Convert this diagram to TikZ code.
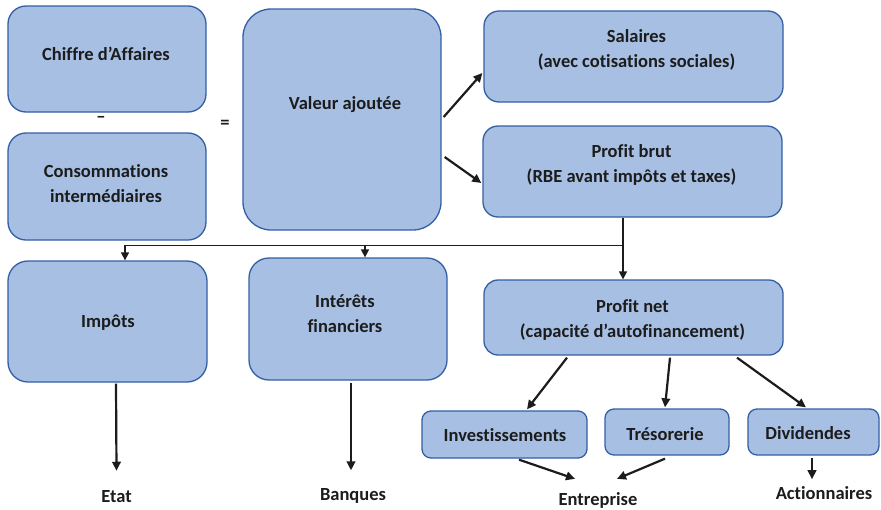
\documentclass[tikz,border=0pt]{standalone}
\usepackage{fontspec}
\setmainfont{Carlito}[Ligatures=NoCommon]
\usetikzlibrary{arrows.meta}
\definecolor{boxfill}{RGB}{167,191,227}
\definecolor{boxline}{RGB}{52,95,165}
\definecolor{ink}{RGB}{28,28,28}
\begin{document}
\begin{tikzpicture}[x=1pt,y=-1pt,
  box/.style={draw=boxline, fill=boxfill, line width=1.3pt, rounded corners=#1, inner sep=0pt},
  box/.default=16pt,
  lbl/.style={font=\bfseries\fontsize{18.5}{25}\selectfont, text=ink, align=center, inner sep=0pt},
  arr/.style={-{Triangle[length=9pt,width=8.5pt]}, line width=2.2pt, draw=ink},
  arrs/.style={-{Triangle[length=8pt,width=8pt]}, line width=1.6pt, draw=ink},
  link/.style={line width=1.6pt, draw=ink}]
\useasboundingbox[fill=white] (0,0) rectangle (881,509);

% boxes
\node[box=18pt, minimum width=198pt, minimum height=106pt] (ca) at (107,59) {};
\node[box=18pt, minimum width=198pt, minimum height=107pt] (ci) at (107,186.5) {};
\node[box=28pt, minimum width=198pt, minimum height=221pt] (va) at (342,119.5) {};
\node[box=15pt, minimum width=299pt, minimum height=91pt] (sal) at (633.5,56.5) {};
\node[box=15pt, minimum width=299pt, minimum height=91pt] (pb) at (632.5,171.5) {};
\node[box=20pt, minimum width=199pt, minimum height=121pt] (imp) at (107.5,321.5) {};
\node[box=20pt, minimum width=198pt, minimum height=122pt] (int) at (348,319) {};
\node[box=14pt, minimum width=299pt, minimum height=75pt] (pn) at (633.5,317.5) {};
\node[box=9pt, minimum width=165pt, minimum height=47pt] (inv) at (504.5,434.5) {};
\node[box=9pt, minimum width=124pt, minimum height=46pt] (tre) at (667,432) {};
\node[box=9pt, minimum width=131pt, minimum height=46pt] (div) at (813.5,432) {};

% texts
\node[lbl] (tca) at (106,54) {Chiffre d’Affaires};
\node[lbl] (tci) at (106,184) {Consommations\\intermédiaires};
\node[lbl] (tminus) at (101,119) {–};
\node[lbl] (teq) at (225,124) {=};
\node[lbl] (tva) at (345,105) {Valeur ajoutée};
\node[lbl] (tsal) at (636.5,49.5) {Salaires\\(avec cotisations sociales)};
\node[lbl] (tpb) at (631.5,164.5) {Profit brut\\(RBE avant impôts et taxes)};
\node[lbl] (timp) at (108,323) {Impôts};
\node[lbl] (tint) at (345,313.5) {Intérêts\\financiers};
\node[lbl] (tpn) at (632.5,319.5) {Profit net\\(capacité d’autofinancement)};
\node[lbl] (tinv) at (505,435) {Investissements};
\node[lbl] (ttre) at (665,434) {Trésorerie};
\node[lbl] (tdiv) at (808,433) {Dividendes};
\node[lbl] (etat) at (116.5,497) {Etat};
\node[lbl] (banq) at (353,496) {Banques};
\node[lbl] (entr) at (598,500) {Entreprise};
\node[lbl] (act) at (824,493) {Actionnaires};

% connectors
\draw[arr] ([shift={(2,-2.5)}]va.east) -- ([shift={(-1,16.5)}]sal.west);
\draw[arr] ([shift={(3,37.5)}]va.east) -- ([shift={(-1,11.5)}]pb.west);

\coordinate (jn) at ([shift={(-9.5,28)}]pb.south);
\coordinate (impin) at ([xshift=17.5pt]imp.north);
\coordinate (intin) at ([xshift=17pt]int.north);
\draw[link] ([xshift=-9.5pt]pb.south) -- (jn);
\draw[arrs] (jn) -- (jn |- pn.north);
\draw[arrs] (jn) -| (impin);
\draw[arrs] (intin |- jn) -- (intin);

\draw[arr] ([shift={(8.5,1)}]imp.south) -- ([shift={(0,-20)}]etat.north);
\draw[arr] ([shift={(3,2)}]int.south) -- ([shift={(-2,-18)}]banq.north);

\draw[arr] ([shift={(-66.5,2)}]pn.south) -- ([shift={(22.5,-1)}]inv.north);
\draw[arr] ([shift={(36.5,2)}]pn.south) -- ([shift={(-2,-1)}]tre.north);
\draw[arr] ([shift={(103.5,2)}]pn.south) -- ([shift={(-7.5,-1)}]div.north);
\draw[arr] ([shift={(14.5,1)}]inv.south) -- ([shift={(-23,-13)}]entr.north);
\draw[arr] ([shift={(-2,3)}]tre.south) -- ([shift={(19,-13)}]entr.north);
\draw[arr] ([shift={(-1.5,2)}]div.south) -- ([shift={(-12,-7)}]act.north);
\end{tikzpicture}
\end{document}
